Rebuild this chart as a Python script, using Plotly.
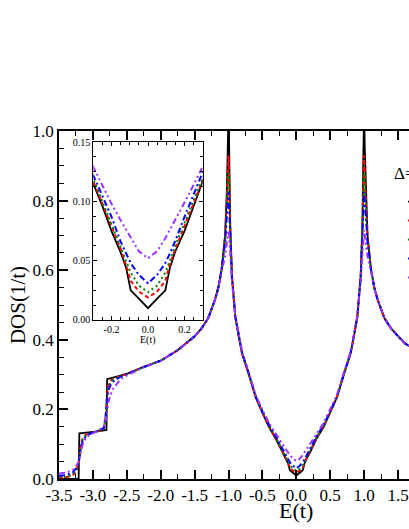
import plotly.graph_objects as go

# energy grid (units of t)
energy = [
    -3.5, -3.4, -3.3, -3.25, -3.21, -3.2, -3.18, -3.15, -3.1, -3.0,
    -2.9, -2.84, -2.81, -2.8, -2.79, -2.77, -2.74, -2.7, -2.6, -2.5,
    -2.25, -2.0, -1.75, -1.5, -1.4, -1.3, -1.2, -1.15, -1.1, -1.05,
    -1.025, -1.01, -1.0, -0.99, -0.975, -0.95, -0.9, -0.85, -0.8, -0.7,
    -0.6, -0.5, -0.4, -0.3, -0.25, -0.2, -0.15, -0.12, -0.095, -0.05,
    0.0, 0.05, 0.095, 0.12, 0.15, 0.2, 0.25, 0.3, 0.4, 0.5,
    0.6, 0.7, 0.8, 0.85, 0.9, 0.95, 0.975, 0.99, 1.0, 1.01,
    1.025, 1.05, 1.1, 1.15, 1.2, 1.3, 1.4, 1.5, 1.6, 1.7,
    1.8, 1.9,
]

dos_black = [
    0, 0, 0, 0, 0, 0.131, 0.131, 0.132, 0.133, 0.135,
    0.138, 0.140, 0.141, 0.141, 0.287, 0.288, 0.289, 0.291, 0.296, 0.302,
    0.322, 0.340, 0.370, 0.410, 0.432, 0.462, 0.515, 0.550, 0.605, 0.700,
    0.826, 0.950, 1.050, 0.950, 0.730, 0.585, 0.465, 0.410, 0.360, 0.300,
    0.235, 0.190, 0.148, 0.115, 0.096, 0.075, 0.057, 0.044, 0.025, 0.018,
    0.010, 0.018, 0.025, 0.044, 0.058, 0.075, 0.096, 0.117, 0.148, 0.190,
    0.235, 0.300, 0.360, 0.410, 0.465, 0.585, 0.730, 0.950, 1.050, 0.950,
    0.826, 0.700, 0.605, 0.550, 0.515, 0.462, 0.432, 0.410, 0.390, 0.378,
    0.366, 0.355,
]
dos_red = [
    0.004, 0.005, 0.010, 0.020, 0.045, 0.065, 0.095, 0.118, 0.128, 0.134,
    0.138, 0.142, 0.180, 0.214, 0.245, 0.270, 0.282, 0.288, 0.295, 0.302,
    0.322, 0.340, 0.370, 0.410, 0.432, 0.462, 0.515, 0.550, 0.605, 0.700,
    0.800, 0.880, 0.930, 0.870, 0.720, 0.585, 0.466, 0.411, 0.361, 0.301,
    0.236, 0.191, 0.150, 0.117, 0.098, 0.079, 0.060, 0.046, 0.033, 0.024,
    0.019, 0.024, 0.033, 0.047, 0.060, 0.079, 0.099, 0.118, 0.150, 0.191,
    0.236, 0.301, 0.361, 0.411, 0.466, 0.585, 0.720, 0.870, 0.930, 0.880,
    0.800, 0.700, 0.605, 0.550, 0.515, 0.462, 0.432, 0.410, 0.390, 0.378,
    0.366, 0.355,
]
dos_green = [
    0.005, 0.006, 0.012, 0.022, 0.045, 0.065, 0.090, 0.114, 0.126, 0.134,
    0.139, 0.144, 0.180, 0.214, 0.240, 0.265, 0.278, 0.286, 0.294, 0.302,
    0.322, 0.340, 0.370, 0.410, 0.432, 0.462, 0.515, 0.550, 0.605, 0.690,
    0.780, 0.840, 0.880, 0.830, 0.710, 0.583, 0.467, 0.412, 0.362, 0.302,
    0.237, 0.192, 0.152, 0.119, 0.100, 0.081, 0.062, 0.050, 0.040, 0.029,
    0.0235, 0.029, 0.040, 0.050, 0.063, 0.082, 0.101, 0.120, 0.152, 0.192,
    0.237, 0.302, 0.362, 0.412, 0.467, 0.583, 0.710, 0.830, 0.880, 0.840,
    0.780, 0.690, 0.605, 0.550, 0.515, 0.462, 0.432, 0.410, 0.390, 0.378,
    0.366, 0.355,
]
dos_blue = [
    0.009, 0.011, 0.018, 0.030, 0.050, 0.065, 0.085, 0.110, 0.124, 0.134,
    0.140, 0.147, 0.185, 0.212, 0.235, 0.255, 0.270, 0.280, 0.293, 0.301,
    0.322, 0.340, 0.370, 0.410, 0.432, 0.462, 0.515, 0.550, 0.603, 0.680,
    0.760, 0.790, 0.825, 0.780, 0.700, 0.580, 0.468, 0.413, 0.363, 0.303,
    0.238, 0.194, 0.155, 0.122, 0.104, 0.087, 0.066, 0.056, 0.048, 0.038,
    0.031, 0.038, 0.048, 0.056, 0.067, 0.087, 0.105, 0.123, 0.155, 0.194,
    0.238, 0.303, 0.363, 0.413, 0.468, 0.580, 0.700, 0.780, 0.825, 0.790,
    0.760, 0.680, 0.603, 0.550, 0.515, 0.462, 0.432, 0.410, 0.390, 0.378,
    0.366, 0.355,
]
dos_purple = [
    0.016, 0.018, 0.025, 0.035, 0.050, 0.060, 0.075, 0.100, 0.120, 0.132,
    0.142, 0.152, 0.168, 0.185, 0.200, 0.222, 0.242, 0.260, 0.285, 0.298,
    0.321, 0.340, 0.370, 0.410, 0.432, 0.462, 0.514, 0.548, 0.598, 0.640,
    0.680, 0.700, 0.715, 0.700, 0.660, 0.570, 0.470, 0.415, 0.366, 0.306,
    0.242, 0.199, 0.160, 0.129, 0.113, 0.098, 0.084, 0.076, 0.069, 0.058,
    0.052, 0.058, 0.069, 0.076, 0.085, 0.099, 0.114, 0.130, 0.160, 0.199,
    0.242, 0.306, 0.366, 0.415, 0.470, 0.570, 0.660, 0.700, 0.715, 0.700,
    0.680, 0.640, 0.598, 0.548, 0.514, 0.462, 0.432, 0.410, 0.390, 0.378,
    0.366, 0.355,
]

deltas = ["0.00", "0.01", "0.02", "0.03", "0.05"]

x_ticks = [-3.5, -3.0, -2.5, -2.0, -1.5, -1.0, -0.5, 0.0, 0.5, 1.0, 1.5]
x_ticktext = ["-3.5", "-3.0", "-2.5", "-2.0", "-1.5", "-1.0", "-0.5", "0.0", "0.5", "1.0", "1.5"]
inset_x_ticks = [-0.2, 0.0, 0.2]
inset_x_ticktext = ["-0.2", "0.0", "0.2"]
inset_y_ticks = [0.0, 0.05, 0.10, 0.15]
inset_y_ticktext = ["0.00", "0.05", "0.10", "0.15"]

SERIF = "Liberation Serif"

series = [
    (dos_black, "black", "solid", 1.8),
    (dos_red, "#ff0000", "4px,3px", 2.0),
    (dos_green, "#008000", "2px,3px", 2.0),
    (dos_blue, "#0000ff", "6px,3px,2px,3px", 2.0),
    (dos_purple, "#9933ff", "6px,3px,2px,3px,2px,3px", 2.0),
]

fig = go.Figure()

# main panel
for (vals, color, dash, lw), name in zip(series, deltas):
    fig.add_trace(go.Scatter(
        x=energy, y=vals, mode="lines", name=name,
        line=dict(color=color, dash=dash, width=lw),
        xaxis="x", yaxis="y",
    ))

# inset, zoom around E=0
for (vals, color, dash, lw), name in zip(series, deltas):
    fig.add_trace(go.Scatter(
        x=energy, y=vals, mode="lines", name=name, showlegend=False,
        line=dict(color=color, dash=dash, width=lw),
        xaxis="x2", yaxis="y2",
    ))

axis_common = dict(
    showline=True, linecolor="black", showgrid=False, zeroline=False,
    ticks="inside", tickcolor="black",
)

fig.update_layout(
    width=409,
    height=529,
    margin=dict(l=59, r=0, t=131, b=50, autoexpand=False),
    paper_bgcolor="white",
    plot_bgcolor="white",
    font=dict(family=SERIF, color="black"),
    xaxis=dict(
        **axis_common,
        domain=[0, 1],
        range=[-3.5, 1.662],
        linewidth=1.6,
        mirror="allticks",
        ticklen=9, tickwidth=1.5,
        tickvals=x_ticks, ticktext=x_ticktext,
        tickfont=dict(size=17),
        ticklabeloverflow="allow",
        minor=dict(ticks="inside", ticklen=5, tickwidth=1.3, tickcolor="black",
                   dtick=0.25, tick0=-3.5),
    ),
    yaxis=dict(
        **axis_common,
        domain=[0, 1],
        range=[0, 1.0],
        linewidth=1.6,
        mirror=False,
        ticklen=9, tickwidth=1.5,
        dtick=0.2, tick0=0, tickformat=".1f",
        tickfont=dict(size=17),
        minor=dict(ticks="inside", ticklen=5, tickwidth=1.3, tickcolor="black",
                   dtick=0.05, tick0=0),
    ),
    xaxis2=dict(
        **axis_common,
        domain=[0.098, 0.4106],
        anchor="y2",
        range=[-0.3, 0.3],
        linewidth=1.2,
        mirror="allticks",
        ticklen=4, tickwidth=1,
        tickvals=inset_x_ticks, ticktext=inset_x_ticktext,
        tickfont=dict(size=10),
        minor=dict(ticks="inside", ticklen=3, tickwidth=1, tickcolor="black",
                   dtick=0.05, tick0=0),
    ),
    yaxis2=dict(
        **axis_common,
        domain=[0.457, 0.968],
        anchor="x2",
        range=[0, 0.15],
        linewidth=1.2,
        mirror="allticks",
        ticklen=4, tickwidth=1,
        tickvals=inset_y_ticks, ticktext=inset_y_ticktext,
        tickfont=dict(size=10),
        minor=dict(ticks="inside", ticklen=3, tickwidth=1, tickcolor="black",
                   dtick=0.0125, tick0=0),
    ),
    showlegend=True,
    legend=dict(
        x=0.983, xanchor="left", y=0.839, yanchor="top",
        bgcolor="rgba(0,0,0,0)", font=dict(size=12),
        tracegroupgap=0,
    ),
)

# axis titles and legend header
fig.add_annotation(text="DOS(1/t)", xref="paper", yref="paper", x=-0.117, y=0.5,
                   xanchor="center", yanchor="middle",
                   textangle=-90, showarrow=False, font=dict(size=21))
fig.add_annotation(text="E(t)", xref="x", yref="paper", x=0.0, y=-0.09,
                   showarrow=False, font=dict(size=22), yanchor="middle")
fig.add_annotation(text="E(t)", xref="x2", yref="paper", x=0.0, y=0.399,
                   showarrow=False, font=dict(size=10), yanchor="middle")
fig.add_annotation(text="Δ=", xref="paper", yref="paper", x=0.9506, y=0.879,
                   xanchor="left", yanchor="middle", showarrow=False, font=dict(size=17))

# drop the default page margin so the 409x529 figure fills the window exactly
fig.write_html(
    "out.html",
    config={"displayModeBar": False},
    post_script="document.body.style.margin='0';",
)
